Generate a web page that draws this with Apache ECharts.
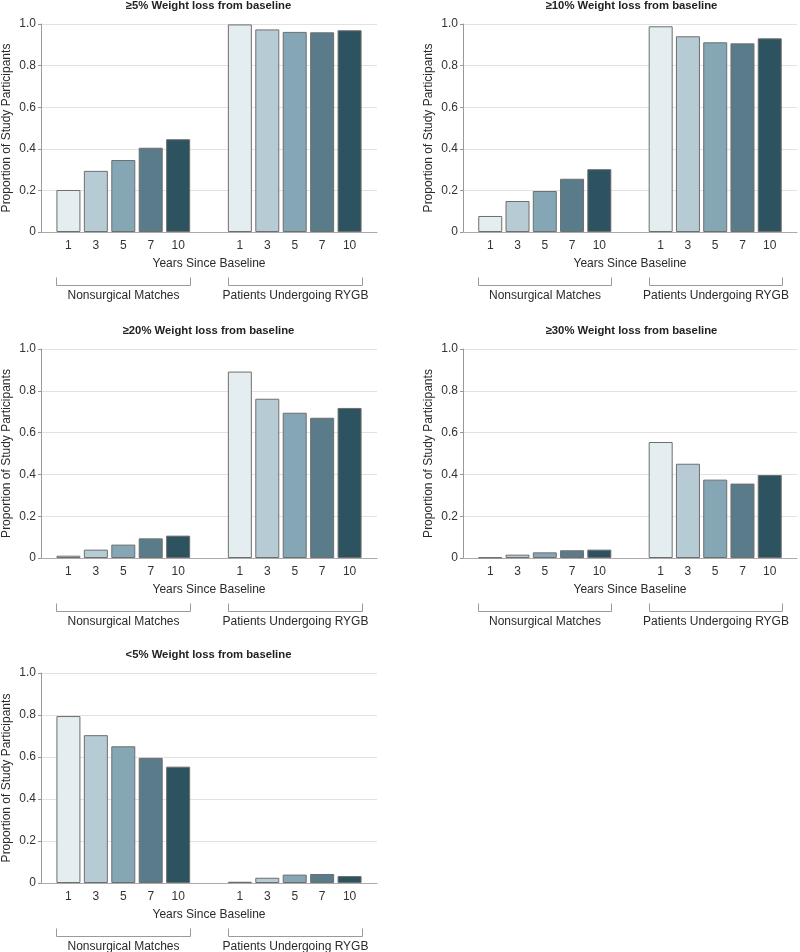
<!DOCTYPE html>
<html>
<head>
<meta charset="utf-8">
<script src="https://cdn.jsdelivr.net/npm/echarts@6/dist/echarts.min.js"></script>
<style>
html,body{margin:0;padding:0;background:#fff;}
#chart{width:800px;height:952px;}
</style>
</head>
<body>
<div id="chart"></div>
<script>
// ---- data ----
var years = ['1', '3', '5', '7', '10'];
var groups = ['Nonsurgical Matches', 'Patients Undergoing RYGB'];
var panelTitles = [
  '\u22655% Weight loss from baseline',
  '\u226510% Weight loss from baseline',
  '\u226520% Weight loss from baseline',
  '\u226530% Weight loss from baseline',
  '<5% Weight loss from baseline'
];
var yTicks = [0, 0.2, 0.4, 0.6, 0.8, 1.0];
var xAxisTitle = 'Years Since Baseline';
var yAxisTitle = 'Proportion of Study Participants';

var loss5Nonsurgical  = [0.202, 0.294, 0.346, 0.405, 0.446];
var loss5Rygb         = [0.998, 0.974, 0.962, 0.960, 0.970];
var loss10Nonsurgical = [0.077, 0.149, 0.197, 0.256, 0.302];
var loss10Rygb        = [0.989, 0.941, 0.912, 0.907, 0.931];
var loss20Nonsurgical = [0.011, 0.040, 0.064, 0.094, 0.107];
var loss20Rygb        = [0.892, 0.762, 0.695, 0.671, 0.718];
var loss30Nonsurgical = [0.003, 0.016, 0.027, 0.037, 0.040];
var loss30Rygb        = [0.555, 0.451, 0.375, 0.356, 0.397];
var lossLt5Nonsurgical = [0.795, 0.704, 0.651, 0.596, 0.554];
var lossLt5Rygb        = [0.006, 0.025, 0.040, 0.043, 0.033];

var panelData = [
  [loss5Nonsurgical, loss5Rygb],
  [loss10Nonsurgical, loss10Rygb],
  [loss20Nonsurgical, loss20Rygb],
  [loss30Nonsurgical, loss30Rygb],
  [lossLt5Nonsurgical, lossLt5Rygb]
];

// ---- styling / layout ----
var FONT = '"Liberation Sans", Arial, sans-serif';
var barColors = ['#e4edf0', '#b6cbd4', '#84a6b5', '#5a7c8a', '#2d5360'];
var groupOffset = 6.25;
var BAR_W = 24;
var grids = [
  {left: 40,  top: 24,  width: 337, height: 208},
  {left: 463, top: 24,  width: 337, height: 208},
  {left: 40,  top: 349, width: 337, height: 209},
  {left: 463, top: 349, width: 337, height: 209},
  {left: 40,  top: 673, width: 337, height: 210}
];

var labelAt = {};
groups.forEach(function (g, gi) {
  years.forEach(function (y, i) {
    labelAt[(i + gi * groupOffset).toFixed(2)] = y;
  });
});

var option = {
  animation: false,
  backgroundColor: '#fff',
  title: [],
  grid: [],
  xAxis: [],
  yAxis: [],
  series: []
};

panelData.forEach(function (pd, p) {
  var g = grids[p];
  option.grid.push({left: g.left, top: g.top, width: g.width, height: g.height, containLabel: false});
  option.title.push({
    text: panelTitles[p],
    left: g.left + g.width / 2,
    top: g.top - 24,
    textAlign: 'center',
    padding: 0,
    textStyle: {fontFamily: FONT, fontSize: 11.3, fontWeight: 'bold', color: '#222'}
  });
  option.xAxis.push({
    type: 'value',
    gridIndex: p,
    min: -1,
    max: 11.25,
    interval: 0.25,
    name: xAxisTitle,
    nameLocation: 'middle',
    nameGap: 26,
    nameTextStyle: {fontFamily: FONT, fontSize: 12, color: '#2a2a2a'},
    axisLine: {show: true, onZero: false, lineStyle: {color: '#aaa', width: 1}},
    axisTick: {show: false},
    splitLine: {show: false},
    axisLabel: {
      margin: 8,
      fontFamily: FONT, fontSize: 12, color: '#333',
      showMinLabel: true, showMaxLabel: true,
      formatter: function (v) { return labelAt[v.toFixed(2)] || ''; }
    }
  });
  option.yAxis.push({
    type: 'value',
    gridIndex: p,
    min: yTicks[0],
    max: yTicks[yTicks.length - 1],
    interval: 0.2,
    name: yAxisTitle,
    nameLocation: 'middle',
    nameGap: 28,
    nameTextStyle: {fontFamily: FONT, fontSize: 12, color: '#2a2a2a'},
    axisLine: {show: true, onZero: false, lineStyle: {color: '#999', width: 1}},
    axisTick: {show: true, length: 3, lineStyle: {color: '#999'}},
    splitLine: {show: true, lineStyle: {color: '#e2e2e2', width: 1}},
    axisLabel: {
      margin: 5,
      fontFamily: FONT, fontSize: 12, color: '#333',
      formatter: function (v) { return v === 0 ? '0' : v.toFixed(1); }
    }
  });
  var barData = [];
  pd.forEach(function (vals, gi) {
    vals.forEach(function (v, i) {
      barData.push({value: [i + gi * groupOffset, v], itemStyle: {color: barColors[i]}});
    });
  });
  option.series.push({
    type: 'bar',
    xAxisIndex: p,
    yAxisIndex: p,
    barWidth: BAR_W,
    data: barData,
    itemStyle: {borderColor: '#6e6e6e', borderWidth: 1},
    emphasis: {disabled: true}
  });
  option.series.push({
    type: 'custom',
    xAxisIndex: p,
    yAxisIndex: p,
    clip: false,
    silent: true,
    encode: {x: [0, 1], y: 2},
    data: [[0, 4, 0], [groupOffset, 4 + groupOffset, 0]],
    renderItem: function (params, api) {
      var a = api.coord([api.value(0), 0]);
      var b = api.coord([api.value(1), 0]);
      var x0 = Math.round(a[0] - BAR_W / 2) + 0.5;
      var x1 = Math.round(b[0] + BAR_W / 2) + 0.5;
      var yBase = a[1];
      var yl = Math.round(yBase + 53) + 0.5;
      var yt = yl - 8;
      return {
        type: 'group',
        children: [
          {type: 'polyline', shape: {points: [[x0, yt], [x0, yl], [x1, yl], [x1, yt]]},
           style: {stroke: '#9a9a9a', lineWidth: 1, fill: null}},
          {type: 'text', style: {text: groups[params.dataIndex], x: (x0 + x1) / 2, y: yBase + 64,
            align: 'center', verticalAlign: 'middle', fill: '#2a2a2a', fontSize: 12, fontFamily: FONT}}
        ]
      };
    }
  });
});

var chart = echarts.init(document.getElementById('chart'), null, {renderer: 'canvas'});
chart.setOption(option);
</script>
</body>
</html>
